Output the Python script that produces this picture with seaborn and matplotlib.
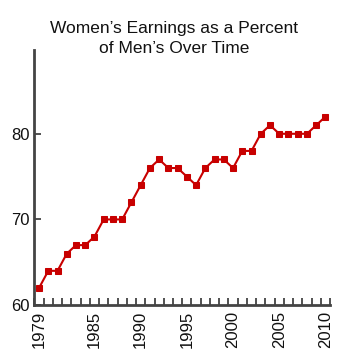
import matplotlib
matplotlib.use("Agg")
import matplotlib.pyplot as plt
import seaborn as sns
import pandas as pd
import numpy as np

years = list(range(1979, 2011))
ratio = [62, 64, 64, 66, 67, 67, 68, 70, 70, 70, 72, 74, 76, 77, 76, 76,
         75, 74, 76, 77, 77, 76, 78, 78, 80, 81, 80, 80, 80, 80, 81, 82]
year_labels = [1979, 1985, 1990, 1995, 2000, 2005, 2010]
y_ticks = [60, 70, 80]
title = "Women\u2019s Earnings as a Percent\nof Men\u2019s Over Time"

df = pd.DataFrame({"year": years, "ratio": ratio})

sns.set_style("white")
plt.rcParams["font.family"] = ["Liberation Sans", "DejaVu Sans"]

fig = plt.figure(figsize=(3.5, 3.56), dpi=100)
ax = fig.add_axes([0.097, 0.143, 0.846, 0.717])

red = "#c80000"
sns.lineplot(data=df, x="year", y="ratio", ax=ax, color=red, linewidth=1.5,
             marker="s", markersize=5, markeredgecolor=red,
             markerfacecolor=red)

ax.set_xlim(1978.45, 2010.5)
ax.set_ylim(60, 89.8)
ax.set_xlabel("")
ax.set_ylabel("")

ax.set_yticks(y_ticks)
ax.set_yticklabels([str(v) for v in y_ticks], fontsize=12)
ax.set_xticks(year_labels)
ax.set_xticklabels([str(v) for v in year_labels], rotation=90, fontsize=12)
ax.set_xticks(np.arange(1978.5, 2011, 1.0), minor=True)

ax.tick_params(axis="x", which="major", bottom=True, length=0, pad=4,
               colors="#111111")
ax.tick_params(axis="x", which="minor", bottom=True, direction="in",
               length=5, width=1.2, color="#333333")
ax.tick_params(axis="y", which="major", left=True, direction="in", length=5,
               width=1.2, color="#333333", pad=3, labelcolor="#111111")

for side in ("top", "right"):
    ax.spines[side].set_visible(False)
for side in ("left", "bottom"):
    ax.spines[side].set_color("#444444")
    ax.spines[side].set_linewidth(2)

fig.text(0.497, 0.892, title, ha="center", va="center", fontsize=12.5,
         color="#111111", linespacing=1.4)

fig.savefig("out.png", dpi=100)
